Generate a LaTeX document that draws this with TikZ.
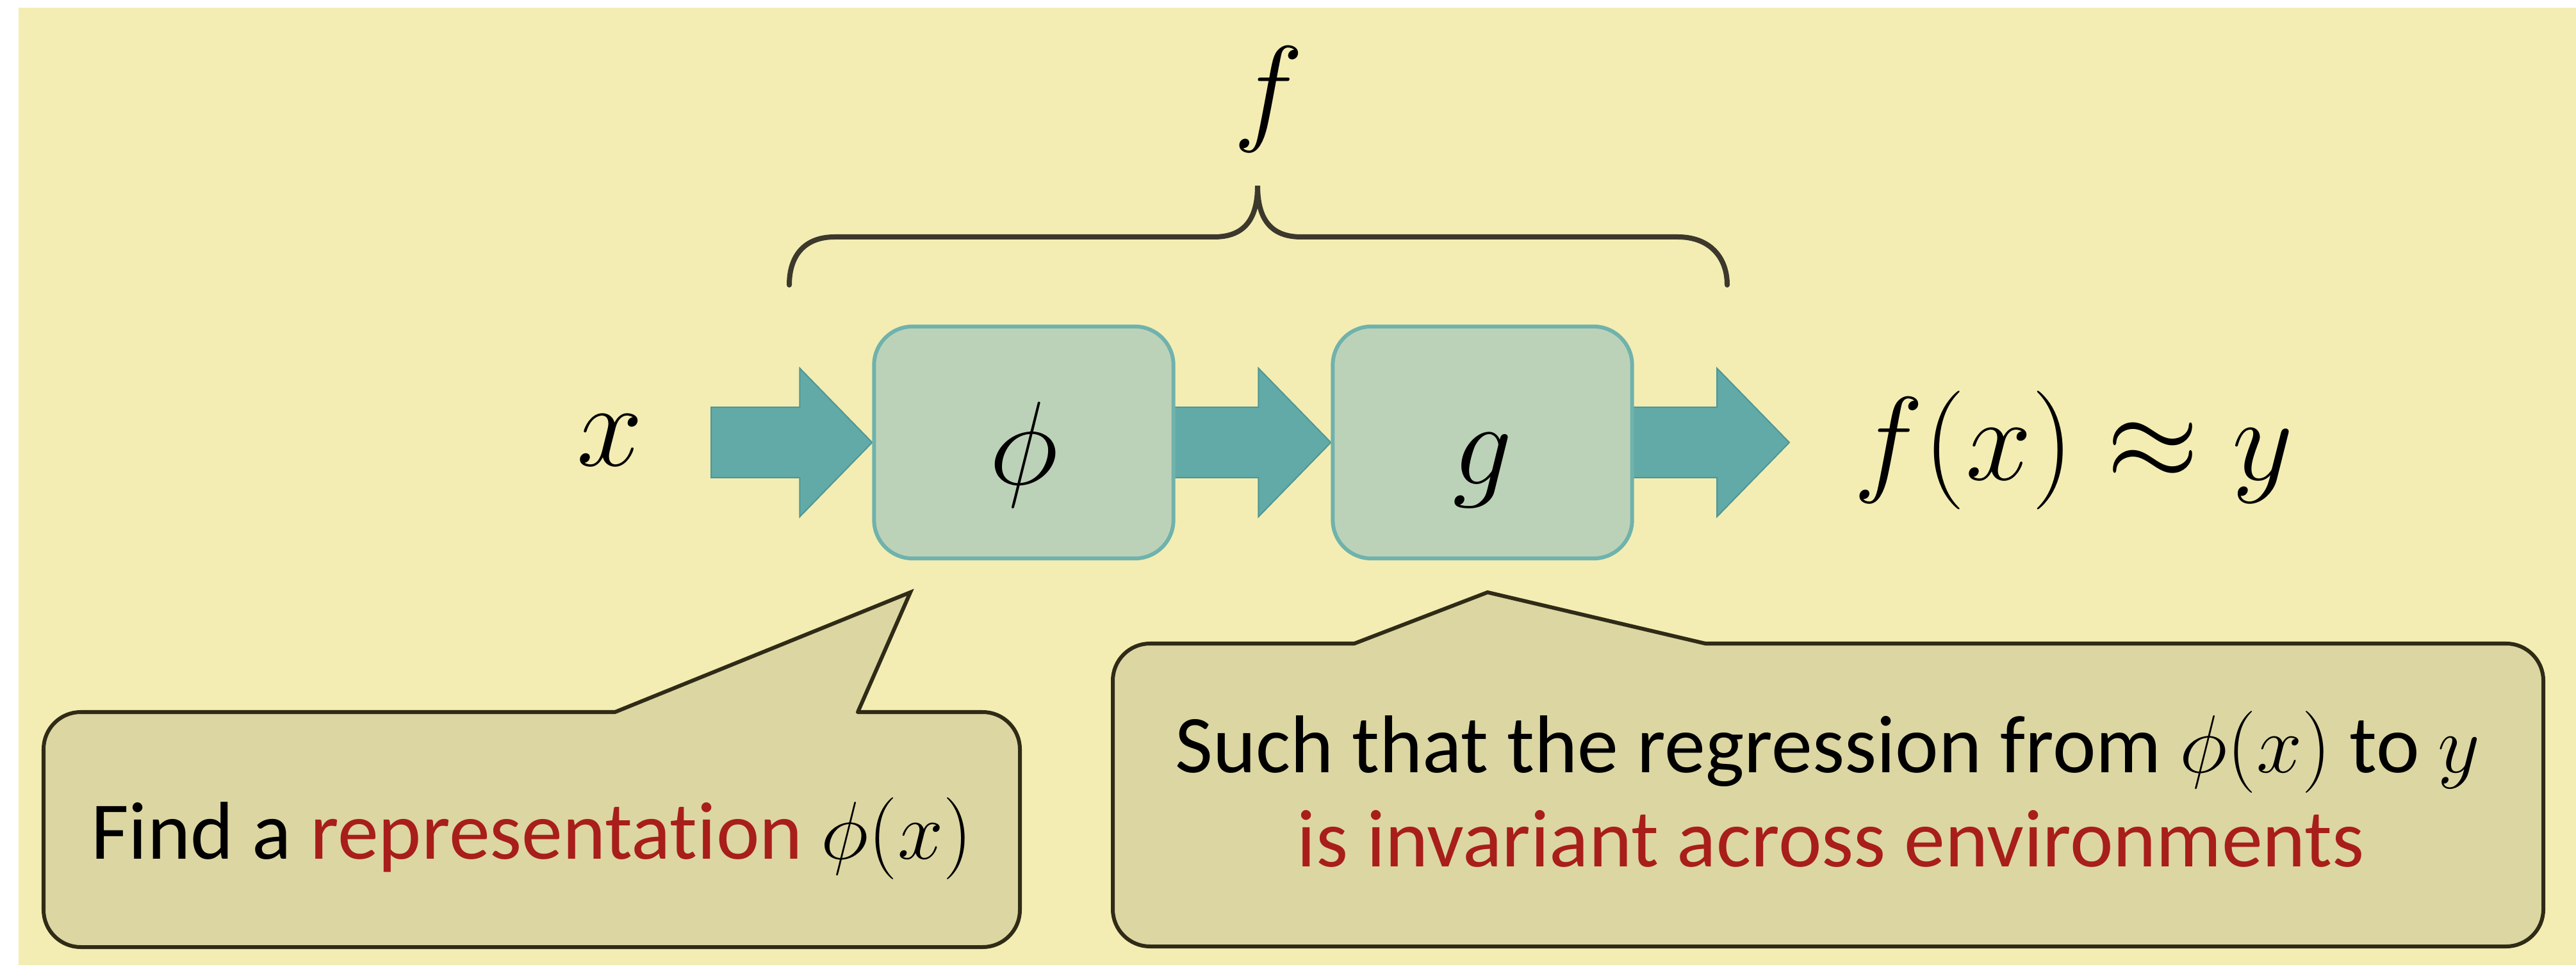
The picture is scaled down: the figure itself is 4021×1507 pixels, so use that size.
\RequirePackage{fix-cm}
\documentclass[tikz,border=0pt]{standalone}
\usepackage[no-math]{fontspec}
\setmainfont{Carlito}[Ligatures=NoCommon]
\usetikzlibrary{calc}
\definecolor{bgyellow}{RGB}{243,237,179}
\definecolor{callfill}{RGB}{220,214,162}
\definecolor{callline}{RGB}{48,43,22}
\definecolor{arrowfill}{RGB}{98,170,168}
\definecolor{arrowedge}{RGB}{80,150,148}
\definecolor{boxfill}{RGB}{188,210,184}
\definecolor{boxline}{RGB}{112,178,172}
\definecolor{txtred}{RGB}{168,30,26}
\definecolor{bracecol}{RGB}{60,56,44}
\pgfdeclarelayer{backlayer}
\pgfdeclarelayer{arrowlayer}
\pgfsetlayers{backlayer,arrowlayer,main}
\newcommand\blockarrow[2]{%
  \path[blockarrow] ($(#1)+(0,-55)$) -- ($(#2)+(-113,-55)$) -- ($(#2)+(-113,-116)$)
    -- (#2) -- ($(#2)+(-113,116)$) -- ($(#2)+(-113,55)$) -- ($(#1)+(0,55)$) -- cycle;}
\newcommand\boxlabel[1]{\raisebox{0pt}[1.3cm][0pt]{#1}\hspace{0.46cm}}
\begin{document}
\begin{tikzpicture}[x=0.01cm,y=-0.01cm,
  mathbig/.style={font=\fontsize{52.7}{60}\selectfont, inner sep=0pt},
  procbox/.style={draw=boxline, line width=0.06cm, fill=boxfill, rounded corners=0.6cm,
    minimum width=4.67cm, minimum height=3.62cm, inner sep=0pt,
    font=\fontsize{52.7}{60}\selectfont},
  blockarrow/.style={fill=arrowfill, draw=arrowedge, line width=0.02cm, line join=miter},
  callout/.style={fill=callfill, draw=callline, line width=0.06cm, rounded corners=0.58cm},
  calledge/.style={draw=callline, line width=0.06cm, line join=miter, line cap=round},
  calltext/.style={font=\fontsize{36.4}{44}\selectfont, inner sep=0pt, anchor=base},
  bracestyle/.style={draw=bracecol, line width=0.08cm, line cap=round}
]
\useasboundingbox (0,0) rectangle (4021,1507);
\begin{pgfonlayer}{backlayer}
  \fill[white] (0,0) rectangle (4021,1507);
  \fill[bgyellow] (29,12) rectangle (4021,1507);
\end{pgfonlayer}

% main chain
\node[mathbig, anchor=base] (xin) at (952,728) {$x$};
\node[procbox] (phi) at (1598,691) {\boxlabel{$\phi$}};
\node[procbox] (g) at (2314,691) {\boxlabel{$g$}};
\node[mathbig, anchor=base west] (fx) at (2893,750) {$f(x)\approx y$};
\coordinate (ain) at (1110,691);
\coordinate (aout) at (2793,691);
\coordinate (p2) at ($(phi.east)+(-8,0)$);
\coordinate (p3) at ($(g.east)+(-8,0)$);

\begin{pgfonlayer}{arrowlayer}
  \blockarrow{ain}{phi.west}
  \blockarrow{p2}{g.west}
  \blockarrow{p3}{aout}
\end{pgfonlayer}

% brace and f
\draw[bracestyle] (1232,445) .. controls (1232,400) and (1255,370) .. (1303,370)
  -- (1895,370) .. controls (1940,370) and (1963,345) .. (1963,290)
  .. controls (1963,345) and (1986,370) .. (2031,370)
  -- (2619,370) .. controls (2667,370) and (2696,400) .. (2696,445);
\node[mathbig, anchor=base] (flabel) at (1980,202) {$f$};

% left callout
\draw[callout] (68,1112) rectangle (1592,1479);
\fill[callfill] (960,1112) -- (1421,925) -- (1339,1112) -- (1339,1118) -- (960,1118) -- cycle;
\draw[calledge] (960,1112) -- (1421,925) -- (1339,1112);
\node[calltext] (t1) at (830,1341) {Find a \textcolor{txtred}{representation} $\phi(x)$};

% right callout
\draw[callout] (1737,1005) rectangle (3970,1478);
\fill[callfill] (2114,1005) -- (2322,925) -- (2662,1005) -- (2662,1011) -- (2114,1011) -- cycle;
\draw[calledge] (2114,1005) -- (2322,925) -- (2662,1005);
\node[calltext] (t2) at (2853,1206) {Such that the regression from $\phi(x)$ to $y$};
\node[calltext, text=txtred] (t3) at (2858,1353) {is invariant across environments};
\end{tikzpicture}
\end{document}
